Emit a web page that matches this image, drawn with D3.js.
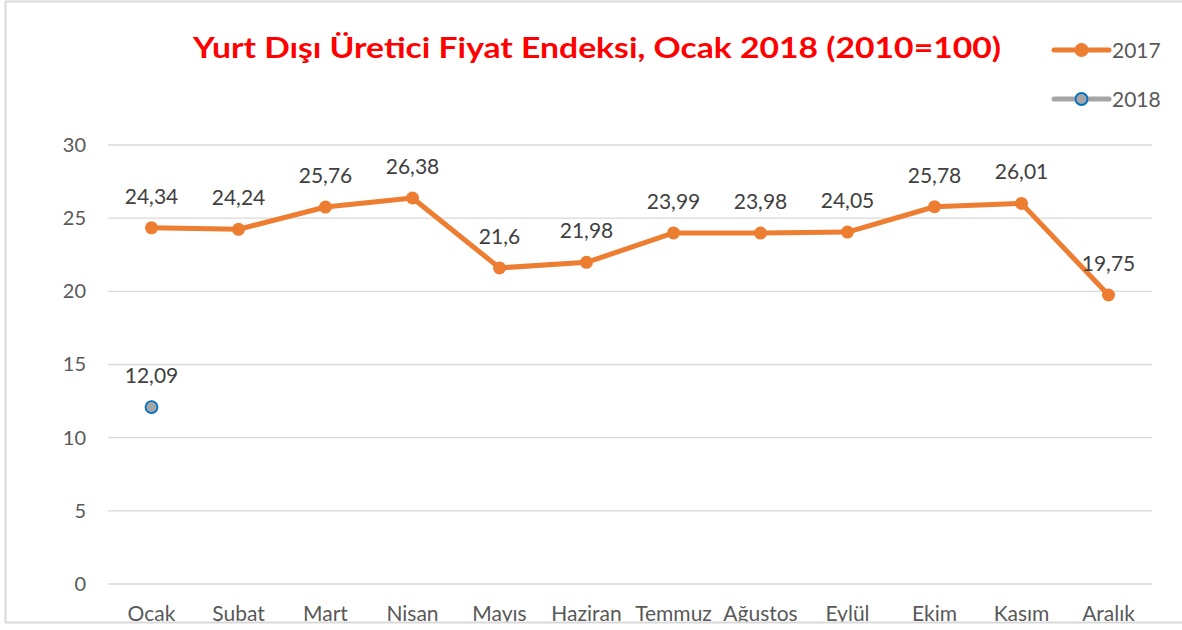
<!doctype html>
<html>
  <head>
    <meta charset="utf-8">
    <script src="https://cdnjs.cloudflare.com/ajax/libs/d3/7.8.5/d3.min.js"></script>
    <style>
      body { margin: 0; background: #fff; }
      text { font-family: Lato, "Open Sans", sans-serif; }
    </style>
  </head>
  <body>
    <svg width="1182" height="630"></svg>
    <script>
      var months = ["Ocak", "Şubat", "Mart", "Nisan", "Mayıs", "Haziran", "Temmuz", "Ağustos", "Eylül", "Ekim", "Kasım", "Aralık"];
      var values2017 = [24.34, 24.24, 25.76, 26.38, 21.6, 21.98, 23.99, 23.98, 24.05, 25.78, 26.01, 19.75];
      var values2018 = [12.09];
      var yTicks = [0, 5, 10, 15, 20, 25, 30];
      var seriesNames = ["2017", "2018"];

      var svg = d3.select("svg");
      var fmt = d => String(d).replace(".", ",");

      var x = d3.scaleBand().domain(months).range([108, 1152]);
      var y = d3.scaleLinear().domain([0, 30]).range([584, 145]);
      var cx = d => x(d) + x.bandwidth() / 2;

      // grid
      svg.append("g")
        .selectAll("line").data(yTicks)
        .enter().append("line")
          .attr("x1", 108).attr("x2", 1152)
          .attr("y1", d => y(d)).attr("y2", d => y(d))
          .style("stroke", "#d9d9d9").style("stroke-width", 1.3);

      // y axis labels
      var yAxis = d3.axisLeft(y).tickValues(yTicks).tickSize(0).tickPadding(0);
      var ya = svg.append("g").attr("transform", "translate(86,0)").call(yAxis);
      ya.select(".domain").remove();
      ya.selectAll("text")
        .style("font-size", "20px").style("fill", "#595959")
        .style("font-family", "Lato, 'Open Sans', sans-serif");

      // x axis labels
      var xAxis = d3.axisBottom(x).tickSize(0).tickPadding(0);
      var xa = svg.append("g").attr("transform", "translate(0,621)").call(xAxis);
      xa.select(".domain").remove();
      xa.selectAll("text")
        .attr("y", 0).attr("dy", 0)
        .style("font-size", "21px").style("fill", "#595959")
        .style("font-family", "Lato, 'Open Sans', sans-serif");

      // 2017 line
      var line = d3.line().x((d, i) => cx(months[i])).y(d => y(d));
      svg.append("path").datum(values2017)
        .attr("d", line)
        .style("fill", "none").style("stroke", "#ed7d31")
        .style("stroke-width", 5).style("stroke-linejoin", "round");

      svg.append("g").selectAll("circle").data(values2017)
        .enter().append("circle")
          .attr("cx", (d, i) => cx(months[i]))
          .attr("cy", d => y(d))
          .attr("r", 6.5)
          .style("fill", "#ed7d31");

      svg.append("g").selectAll("text").data(values2017)
        .enter().append("text")
          .attr("x", (d, i) => cx(months[i]))
          .attr("y", d => y(d) - 24)
          .attr("text-anchor", "middle")
          .style("font-size", "21px").style("fill", "#404040")
          .text(fmt);

      // 2018 point
      svg.append("g").selectAll("circle").data(values2018)
        .enter().append("circle")
          .attr("cx", (d, i) => cx(months[i]))
          .attr("cy", d => y(d))
          .attr("r", 6)
          .style("fill", "#a5a5a5").style("stroke", "#0070c0").style("stroke-width", 1.8);

      svg.append("g").selectAll("text").data(values2018)
        .enter().append("text")
          .attr("x", (d, i) => cx(months[i]))
          .attr("y", d => y(d) - 24)
          .attr("text-anchor", "middle")
          .style("font-size", "21px").style("fill", "#404040")
          .text(fmt);

      // title
      svg.append("text")
        .attr("x", 597).attr("y", 58)
        .attr("text-anchor", "middle")
        .attr("textLength", 808).attr("lengthAdjust", "spacingAndGlyphs")
        .style("font-size", "29px").style("font-weight", "bold").style("fill", "#ff0000")
        .text("Yurt Dışı Üretici Fiyat Endeksi, Ocak 2018 (2010=100)");

      // legend
      var legend = svg.append("g").selectAll("g").data(seriesNames)
        .enter().append("g")
          .attr("transform", (d, i) => "translate(1054," + (50 + i * 49) + ")");
      legend.append("line")
        .attr("x1", 0).attr("x2", 55)
        .style("stroke", (d, i) => i === 0 ? "#ed7d31" : "#a5a5a5")
        .style("stroke-width", 5).style("stroke-linecap", "round");
      legend.append("circle")
        .attr("cx", 27.5).attr("r", (d, i) => i === 0 ? 7 : 6)
        .style("fill", (d, i) => i === 0 ? "#ed7d31" : "#a5a5a5")
        .style("stroke", (d, i) => i === 0 ? "none" : "#0070c0")
        .style("stroke-width", 1.8);
      legend.append("text")
        .attr("x", 58).attr("y", 8)
        .style("font-size", "21px").style("fill", "#595959")
        .text(d => d);

      // cut the bottom like the source image and draw the frame
      svg.append("rect").attr("x", 0).attr("y", 623).attr("width", 1182).attr("height", 7).style("fill", "#fff");
      svg.append("path")
        .attr("d", "M1190,1.5 H5.5 V622.5 H1190")
        .style("fill", "none").style("stroke", "#d9d9d9").style("stroke-width", 2);
    </script>
  </body>
</html>
